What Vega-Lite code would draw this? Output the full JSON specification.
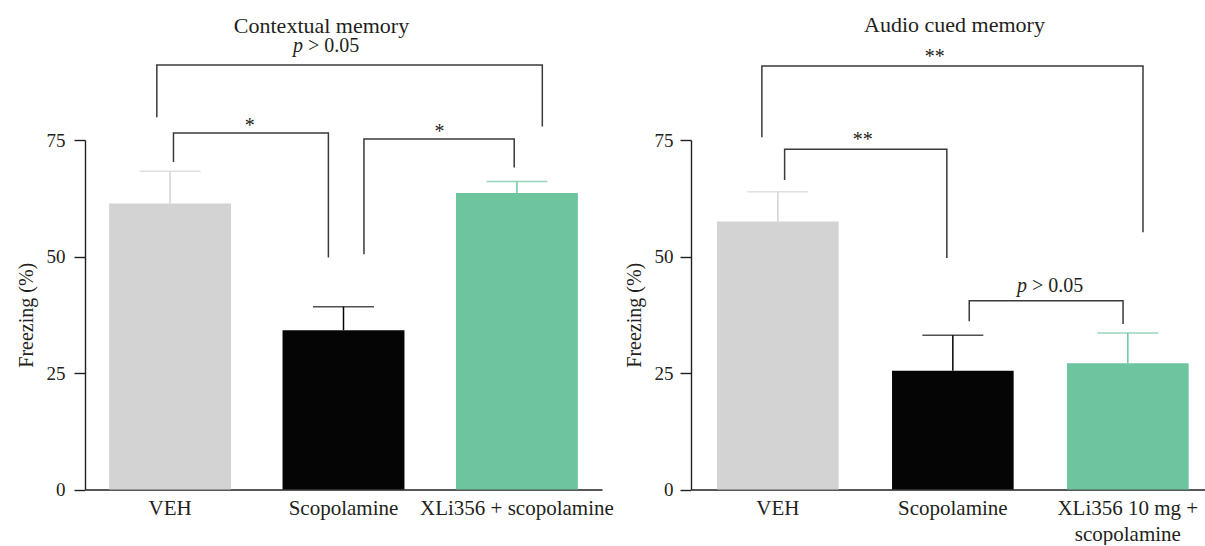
{
  "$schema": "https://vega.github.io/schema/vega-lite/v6.json",
  "padding": {"left": 16, "top": 14, "right": 0, "bottom": 0},
  "spacing": 10,
  "resolve": {"scale": {"color": "independent"}},
  "datasets": {
    "leftBars": [
      {"group": "VEH", "mean": 61.4, "upper": 68.3},
      {"group": "Scopolamine", "mean": 34.2, "upper": 39.2},
      {"group": "XLi356 + scopolamine", "mean": 63.6, "upper": 66.1}
    ],
    "rightBars": [
      {"group": "VEH", "mean": 57.5, "upper": 63.9},
      {"group": "Scopolamine", "mean": 25.5, "upper": 33.1},
      {"group": "XLi356 10 mg + scopolamine", "mean": 27.1, "upper": 33.6}
    ],
    "leftBrackets": [
      {"bracket": "A", "step": 1, "pos": 0.02, "value": 70.3},
      {"bracket": "A", "step": 2, "pos": 0.02, "value": 76.5},
      {"bracket": "A", "step": 3, "pos": 0.913, "value": 76.5},
      {"bracket": "A", "step": 4, "pos": 0.913, "value": 49.8},
      {"bracket": "B", "step": 1, "pos": 1.118, "value": 50.5},
      {"bracket": "B", "step": 2, "pos": 1.118, "value": 75.2},
      {"bracket": "B", "step": 3, "pos": 1.984, "value": 75.2},
      {"bracket": "B", "step": 4, "pos": 1.984, "value": 69.1},
      {"bracket": "C", "step": 1, "pos": -0.076, "value": 79.9},
      {"bracket": "C", "step": 2, "pos": -0.076, "value": 91.1},
      {"bracket": "C", "step": 3, "pos": 2.146, "value": 91.1},
      {"bracket": "C", "step": 4, "pos": 2.146, "value": 77.9}
    ],
    "rightBrackets": [
      {"bracket": "A", "step": 1, "pos": -0.091, "value": 75.6},
      {"bracket": "A", "step": 2, "pos": -0.091, "value": 90.9},
      {"bracket": "A", "step": 3, "pos": 2.087, "value": 90.9},
      {"bracket": "A", "step": 4, "pos": 2.087, "value": 55.2},
      {"bracket": "B", "step": 1, "pos": 0.039, "value": 66.4},
      {"bracket": "B", "step": 2, "pos": 0.039, "value": 73.0},
      {"bracket": "B", "step": 3, "pos": 0.966, "value": 73.0},
      {"bracket": "B", "step": 4, "pos": 0.966, "value": 49.7},
      {"bracket": "C", "step": 1, "pos": 1.094, "value": 36.1},
      {"bracket": "C", "step": 2, "pos": 1.094, "value": 40.5},
      {"bracket": "C", "step": 3, "pos": 1.973, "value": 40.5},
      {"bracket": "C", "step": 4, "pos": 1.973, "value": 35.5}
    ],
    "leftStars": [
      {"label": "*", "pos": 0.46, "value": 76.8},
      {"label": "*", "pos": 1.553, "value": 75.5}
    ],
    "rightStars": [
      {"label": "**", "pos": 0.897, "value": 91.5},
      {"label": "**", "pos": 0.486, "value": 73.8}
    ],
    "leftP": [{"p": "p", "rest": "> 0.05", "pos": 0.778, "value": 93.8}],
    "rightP": [{"p": "p", "rest": "> 0.05", "pos": 1.435, "value": 42.3}]
  },
  "hconcat": [
    {
      "width": 517,
      "height": 349.5,
      "title": {"text": "Contextual memory", "offset": -2, "dx": -22},
      "resolve": {"scale": {"x": "independent"}, "axis": {"x": "independent"}},
      "layer": [
        {
          "data": {"name": "leftBars"},
          "layer": [
            {
              "mark": {"type": "bar"},
              "encoding": {
                "x": {"field": "group", "type": "nominal", "sort": null,
                  "scale": {"paddingInner": 0.297, "paddingOuter": 0.139, "align": 0.5},
                  "axis": {"title": null, "ticks": false, "labelAngle": 0, "labelPadding": 8, "labelFontSize": 21, "labelLimit": 400, "labelOverlap": false}},
                "y": {"field": "mean", "type": "quantitative",
                  "scale": {"domain": [0, 75], "nice": false},
                  "axis": {"values": [0, 25, 50, 75], "title": "Freezing (%)", "tickSize": 11, "labelPadding": 9, "titlePadding": 10}},
                "color": {"field": "group", "type": "nominal", "sort": null,
                  "scale": {"range": ["#d3d3d3", "#050505", "#6dc59f"]}, "legend": null}
              }
            },
            {
              "mark": {"type": "rule", "strokeWidth": 1.5},
              "encoding": {
                "x": {"field": "group", "type": "nominal", "sort": null},
                "y": {"field": "mean", "type": "quantitative"},
                "y2": {"field": "upper"},
                "color": {"field": "group", "type": "nominal", "sort": null, "legend": null}
              }
            },
            {
              "mark": {"type": "tick", "size": 61, "thickness": 1.5},
              "encoding": {
                "x": {"field": "group", "type": "nominal", "sort": null},
                "y": {"field": "upper", "type": "quantitative"},
                "color": {"field": "group", "type": "nominal", "sort": null, "legend": null}
              }
            }
          ]
        },
        {
          "layer": [
            {
              "data": {"name": "leftBrackets"},
              "mark": {"type": "line", "color": "#3a3a3a", "strokeWidth": 1.5, "strokeJoin": "miter", "strokeCap": "butt"},
              "encoding": {
                "x": {"field": "pos", "type": "quantitative", "scale": {"domain": [-0.49, 2.49], "nice": false, "zero": false}, "axis": null},
                "y": {"field": "value", "type": "quantitative"},
                "detail": {"field": "bracket"},
                "order": {"field": "step"}
              }
            },
            {
              "data": {"name": "leftStars"},
              "mark": {"type": "text", "fontSize": 20, "color": "#231f20", "baseline": "alphabetic", "align": "center"},
              "encoding": {
                "x": {"field": "pos", "type": "quantitative", "axis": null},
                "y": {"field": "value", "type": "quantitative"},
                "text": {"field": "label"}
              }
            },
            {
              "data": {"name": "leftP"},
              "mark": {"type": "text", "fontSize": 20, "fontStyle": "italic", "color": "#231f20", "baseline": "alphabetic", "align": "right", "dx": -2},
              "encoding": {
                "x": {"field": "pos", "type": "quantitative", "axis": null},
                "y": {"field": "value", "type": "quantitative"},
                "text": {"field": "p"}
              }
            },
            {
              "data": {"name": "leftP"},
              "mark": {"type": "text", "fontSize": 20, "color": "#231f20", "baseline": "alphabetic", "align": "left", "dx": 3},
              "encoding": {
                "x": {"field": "pos", "type": "quantitative", "axis": null},
                "y": {"field": "value", "type": "quantitative"},
                "text": {"field": "rest"}
              }
            }
          ]
        }
      ]
    },
    {
      "width": 515,
      "height": 349.5,
      "title": {"text": "Audio cued memory", "offset": 10, "dx": 6},
      "resolve": {"scale": {"x": "independent"}, "axis": {"x": "independent"}},
      "layer": [
        {
          "data": {"name": "rightBars"},
          "layer": [
            {
              "mark": {"type": "bar"},
              "encoding": {
                "x": {"field": "group", "type": "nominal", "sort": null,
                  "scale": {"paddingInner": 0.305, "paddingOuter": 0.124, "align": 0.6},
                  "axis": {"title": null, "ticks": false, "labelAngle": 0, "labelPadding": 8, "labelFontSize": 21, "labelLimit": 400, "labelOverlap": false, "labelLineHeight": 26,
                    "labelExpr": "datum.value == 'XLi356 10 mg + scopolamine' ? ['XLi356 10 mg +', 'scopolamine'] : datum.value"}},
                "y": {"field": "mean", "type": "quantitative",
                  "scale": {"domain": [0, 75], "nice": false},
                  "axis": {"values": [0, 25, 50, 75], "title": "Freezing (%)", "tickSize": 11, "labelPadding": 7, "titlePadding": 10}},
                "color": {"field": "group", "type": "nominal", "sort": null,
                  "scale": {"range": ["#d3d3d3", "#050505", "#6dc59f"]}, "legend": null}
              }
            },
            {
              "mark": {"type": "rule", "strokeWidth": 1.5},
              "encoding": {
                "x": {"field": "group", "type": "nominal", "sort": null},
                "y": {"field": "mean", "type": "quantitative"},
                "y2": {"field": "upper"},
                "color": {"field": "group", "type": "nominal", "sort": null, "legend": null}
              }
            },
            {
              "mark": {"type": "tick", "size": 61, "thickness": 1.5},
              "encoding": {
                "x": {"field": "group", "type": "nominal", "sort": null},
                "y": {"field": "upper", "type": "quantitative"},
                "color": {"field": "group", "type": "nominal", "sort": null, "legend": null}
              }
            }
          ]
        },
        {
          "layer": [
            {
              "data": {"name": "rightBrackets"},
              "mark": {"type": "line", "color": "#3a3a3a", "strokeWidth": 1.5, "strokeJoin": "miter", "strokeCap": "butt"},
              "encoding": {
                "x": {"field": "pos", "type": "quantitative", "scale": {"domain": [-0.496, 2.447], "nice": false, "zero": false}, "axis": null},
                "y": {"field": "value", "type": "quantitative"},
                "detail": {"field": "bracket"},
                "order": {"field": "step"}
              }
            },
            {
              "data": {"name": "rightStars"},
              "mark": {"type": "text", "fontSize": 20, "color": "#231f20", "baseline": "alphabetic", "align": "center"},
              "encoding": {
                "x": {"field": "pos", "type": "quantitative", "axis": null},
                "y": {"field": "value", "type": "quantitative"},
                "text": {"field": "label"}
              }
            },
            {
              "data": {"name": "rightP"},
              "mark": {"type": "text", "fontSize": 20, "fontStyle": "italic", "color": "#231f20", "baseline": "alphabetic", "align": "right", "dx": -2},
              "encoding": {
                "x": {"field": "pos", "type": "quantitative", "axis": null},
                "y": {"field": "value", "type": "quantitative"},
                "text": {"field": "p"}
              }
            },
            {
              "data": {"name": "rightP"},
              "mark": {"type": "text", "fontSize": 20, "color": "#231f20", "baseline": "alphabetic", "align": "left", "dx": 3},
              "encoding": {
                "x": {"field": "pos", "type": "quantitative", "axis": null},
                "y": {"field": "value", "type": "quantitative"},
                "text": {"field": "rest"}
              }
            }
          ]
        }
      ]
    }
  ],
  "config": {
    "view": {"stroke": null},
    "font": "Liberation Serif",
    "axis": {
      "labelFont": "Liberation Serif", "titleFont": "Liberation Serif",
      "labelColor": "#231f20", "titleColor": "#231f20",
      "domainColor": "#231f20", "tickColor": "#231f20",
      "domainWidth": 1.4, "tickWidth": 1.4,
      "grid": false, "labelFontSize": 19, "titleFontSize": 20, "titleFontWeight": "normal"
    },
    "title": {"font": "Liberation Serif", "fontSize": 22, "fontWeight": "normal", "color": "#231f20"}
  }
}
